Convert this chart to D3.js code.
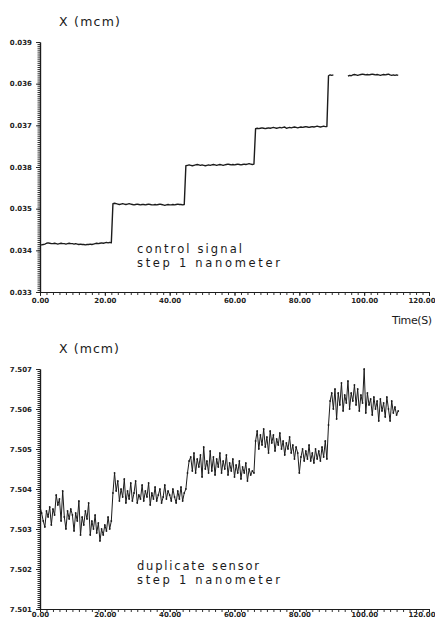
<!DOCTYPE html>
<html>
<head>
<meta charset="utf-8">
<script src="https://cdn.jsdelivr.net/npm/d3@7"></script>
<style>
  html, body { margin: 0; padding: 0; background: #fff; }
  svg { display: block; }
  .tick text { font-family: "DejaVu Sans", sans-serif; font-weight: bold; font-size: 7px; fill: #222; }
  .lbl { font-family: "DejaVu Sans", sans-serif; font-weight: 400; fill: #1a1a1a; }
</style>
</head>
<body>
<svg id="chart" width="435" height="619"></svg>
<script>
// Sampling interval of both recorded signals (seconds)
const sampleStep = 0.5;

// Control signal, X in mcm, one value per sample (null = no data)
const controlSignal = [
  // level 1
  0.03413,0.03413,0.03414,0.03415,0.03417,0.03418,0.03417,0.03416,0.03416,0.03417,
  0.03416,0.03415,0.03416,0.03417,0.03416,0.03416,0.03415,0.03416,0.03417,0.03416,
  0.03416,0.03415,0.03416,0.03415,0.03414,0.03415,0.03414,0.03414,0.03413,0.03414,
  0.03414,0.03415,0.03414,0.03415,0.03416,0.03417,0.03416,0.03417,0.03418,0.03417,
  0.03418,0.03419,0.03418,0.03419,0.03418,
  // level 2
  0.03512,0.03513,0.03512,0.03511,0.03510,0.03511,0.03512,0.03511,0.03510,0.03511,
  0.03512,0.03511,0.03510,0.03509,0.03510,0.03511,0.03510,0.03509,0.03510,0.03510,
  0.03509,0.03510,0.03511,0.03510,0.03509,0.03509,0.03510,0.03509,0.03510,0.03511,
  0.03510,0.03509,0.03508,0.03509,0.03510,0.03509,0.03509,0.03510,0.03509,0.03510,
  0.03511,0.03510,0.03510,0.03509,0.03510,
  // level 3
  0.03603,0.03604,0.03605,0.03604,0.03603,0.03604,0.03605,0.03606,0.03605,0.03604,
  0.03605,0.03604,0.03603,0.03604,0.03605,0.03604,0.03605,0.03606,0.03605,0.03604,
  0.03605,0.03606,0.03605,0.03604,0.03605,0.03606,0.03607,0.03606,0.03605,0.03606,
  0.03605,0.03606,0.03607,0.03606,0.03605,0.03606,0.03607,0.03606,0.03607,0.03608,
  0.03607,0.03606,0.03607,
  // level 4
  0.03692,0.03693,0.03692,0.03693,0.03694,0.03693,0.03692,0.03693,0.03694,0.03693,
  0.03694,0.03695,0.03694,0.03693,0.03694,0.03695,0.03694,0.03695,0.03696,0.03693,
  0.03694,0.03695,0.03694,0.03695,0.03696,0.03695,0.03694,0.03695,0.03696,0.03695,
  0.03696,0.03697,0.03696,0.03695,0.03696,0.03697,0.03696,0.03697,0.03698,0.03697,
  0.03696,0.03697,0.03698,0.03697,0.03697,
  // level 5 (with a short dropout)
  0.03819,0.03821,0.03820,0.03821,
  null,null,null,null,null,null,null,null,
  0.03818,0.03820,0.03819,0.03821,0.03822,0.03821,0.03820,0.03821,0.03822,0.03823,
  0.03822,0.03821,0.03822,0.03821,0.03822,0.03823,0.03822,0.03821,0.03822,0.03821,
  0.03820,0.03821,0.03822,0.03821,0.03822,0.03823,0.03821,0.03820,0.03821,0.03820,
  0.03821,0.03820
];

// Duplicate sensor, X in mcm, one value per sample
const duplicateSensor = [
  // level 1
  7.50355,7.50340,7.50320,7.50305,7.50345,7.50330,7.50355,7.50310,7.50350,7.50335,
  7.50385,7.50360,7.50375,7.50320,7.50395,7.50330,7.50300,7.50345,7.50325,7.50350,
  7.50335,7.50295,7.50340,7.50320,7.50370,7.50285,7.50330,7.50310,7.50345,7.50325,
  7.50365,7.50285,7.50320,7.50300,7.50335,7.50290,7.50315,7.50270,7.50300,7.50285,
  7.50310,7.50295,
  // rise
  7.50330,7.50300,7.50320,7.50390,7.50440,
  // level 2
  7.50395,7.50420,7.50370,7.50400,7.50380,7.50425,7.50365,7.50395,7.50375,7.50415,
  7.50370,7.50390,7.50420,7.50365,7.50385,7.50375,7.50410,7.50370,7.50395,7.50380,
  7.50415,7.50360,7.50390,7.50375,7.50405,7.50370,7.50385,7.50400,7.50365,7.50380,
  7.50410,7.50375,7.50395,7.50385,7.50370,7.50400,7.50380,7.50365,7.50395,7.50375,
  7.50405,7.50370,7.50390,
  // rise
  7.50400,7.50440,7.50470,
  // level 3
  7.50480,7.50445,7.50490,7.50440,7.50475,7.50455,7.50485,7.50430,7.50505,7.50450,
  7.50470,7.50440,7.50495,7.50445,7.50480,7.50435,7.50475,7.50455,7.50490,7.50440,
  7.50470,7.50450,7.50485,7.50435,7.50465,7.50445,7.50475,7.50430,7.50460,7.50440,
  7.50470,7.50425,7.50455,7.50440,7.50465,7.50420,7.50450,7.50435,7.50445,7.50440,
  // level 4
  7.50520,7.50545,7.50500,7.50535,7.50510,7.50550,7.50505,7.50530,7.50490,7.50545,
  7.50515,7.50535,7.50495,7.50525,7.50510,7.50540,7.50500,7.50520,7.50485,7.50515,
  7.50500,7.50530,7.50490,7.50510,7.50475,7.50505,7.50490,7.50440,7.50480,7.50500,
  7.50470,7.50495,7.50475,7.50510,7.50470,7.50490,7.50465,7.50500,7.50475,7.50495,
  7.50470,7.50505,7.50480,7.50520,7.50475,
  // rise
  7.50560,7.50620,7.50640,
  // level 5
  7.50600,7.50650,7.50575,7.50640,7.50610,7.50665,7.50595,7.50635,7.50615,7.50670,
  7.50600,7.50640,7.50620,7.50660,7.50610,7.50650,7.50595,7.50635,7.50615,7.50700,
  7.50590,7.50640,7.50610,7.50625,7.50585,7.50630,7.50600,7.50620,7.50570,7.50625,
  7.50595,7.50615,7.50580,7.50630,7.50600,7.50570,7.50620,7.50590,7.50605,7.50585,
  7.50595
];

// Axis ticks and their labels
const timeTicks = [0, 20, 40, 60, 80, 100, 120];
const timeTickLabels = ["0.00", "20.00", "40.00", "60.00", "80.00", "100.00", "120.00"];
const topTicks = [0.033, 0.034, 0.035, 0.036, 0.037, 0.038, 0.039];
const topTickLabels = ["0.033", "0.034", "0.035", "0.038", "0.037", "0.036", "0.039"];
const bottomTicks = [7.501, 7.502, 7.503, 7.504, 7.505, 7.506, 7.507];
const bottomTickLabels = ["7.501", "7.502", "7.503", "7.504", "7.505", "7.506", "7.507"];

const svg = d3.select("#chart");
const ink = "#1c1c1c";

const x = d3.scaleLinear().domain([0, 120]).range([40, 429]);

function panel(opts) {
  const y = d3.scaleLinear().domain(opts.domain).range(opts.range);
  const g = svg.append("g");

  // minor ticks on the time axis (every 2 s)
  const xMinor = d3.range(0, 121, 2);
  g.append("g")
    .attr("transform", `translate(0,${opts.range[0]})`)
    .call(d3.axisBottom(x).tickValues(xMinor).tickSize(3).tickSizeOuter(0).tickFormat(""));
  // labelled ticks on the time axis
  const xAxisG = g.append("g")
    .attr("transform", `translate(0,${opts.range[0]})`)
    .call(d3.axisBottom(x).tickValues(timeTicks).tickSize(opts.xTickSize).tickSizeOuter(0)
      .tickPadding(opts.xPad)
      .tickFormat((d, i) => timeTickLabels[i]));
  // keep the last label inside the frame
  xAxisG.selectAll(".tick text").filter(d => d === 120)
    .attr("text-anchor", "end").attr("dx", 6);

  // dense minor ticks on the value axis
  const step = (opts.domain[1] - opts.domain[0]) / 120;
  const yMinor = d3.range(0, 121).map(k => opts.domain[0] + k * step);
  g.append("g")
    .attr("transform", "translate(40,0)")
    .call(d3.axisLeft(y).tickValues(yMinor).tickSize(2.5).tickSizeOuter(0).tickFormat(""));
  g.append("g")
    .attr("transform", "translate(40,0)")
    .call(d3.axisLeft(y).tickValues(opts.ticks).tickSize(4).tickSizeOuter(0).tickPadding(4)
      .tickFormat((d, i) => opts.tickLabels[i]));

  g.selectAll(".domain").attr("stroke", ink).attr("stroke-width", 1.2);
  g.selectAll(".tick line").attr("stroke", ink).attr("stroke-width", 0.9);

  const pts = opts.values.map((v, i) => ({ t: i * sampleStep, v }));
  const line = d3.line()
    .defined(d => d.v !== null)
    .x(d => x(d.t))
    .y(d => y(d.v));

  g.append("path")
    .datum(pts)
    .attr("fill", "none")
    .attr("stroke", ink)
    .attr("stroke-width", opts.lineWidth)
    .attr("stroke-linejoin", "round")
    .attr("d", line);

  if (opts.dots) {
    g.append("g").selectAll("circle")
      .data(pts.filter(d => d.v !== null))
      .join("circle")
      .attr("cx", d => x(d.t))
      .attr("cy", d => y(d.v))
      .attr("r", 0.9)
      .attr("fill", ink);
  }
  return g;
}

panel({
  domain: [0.033, 0.039], range: [292, 42],
  ticks: topTicks, tickLabels: topTickLabels,
  xTickSize: 4, xPad: 2.5,
  values: controlSignal, lineWidth: 1.4, dots: false
});

panel({
  domain: [7.501, 7.507], range: [609, 369],
  ticks: bottomTicks, tickLabels: bottomTickLabels,
  xTickSize: 3, xPad: 0,
  values: duplicateSensor, lineWidth: 1.0, dots: true
});

// axis titles and notes, stretched to their printed widths
function label(txt, px, py, size, width) {
  svg.append("text").attr("class", "lbl")
    .attr("x", px).attr("y", py)
    .attr("font-size", size)
    .attr("textLength", width)
    .attr("lengthAdjust", "spacing")
    .text(txt);
}
label("X (mcm)", 59, 26, 12.5, 61);
label("Time(S)", 392, 324, 11, 40);
label("control signal", 137, 253, 11.5, 105);
label("step 1 nanometer", 137, 267, 11.5, 143);
label("X (mcm)", 59, 353, 12.5, 60);
label("duplicate sensor", 137, 570, 11.5, 122);
label("step 1 nanometer", 137, 584, 11.5, 143);
</script>
</body>
</html>
